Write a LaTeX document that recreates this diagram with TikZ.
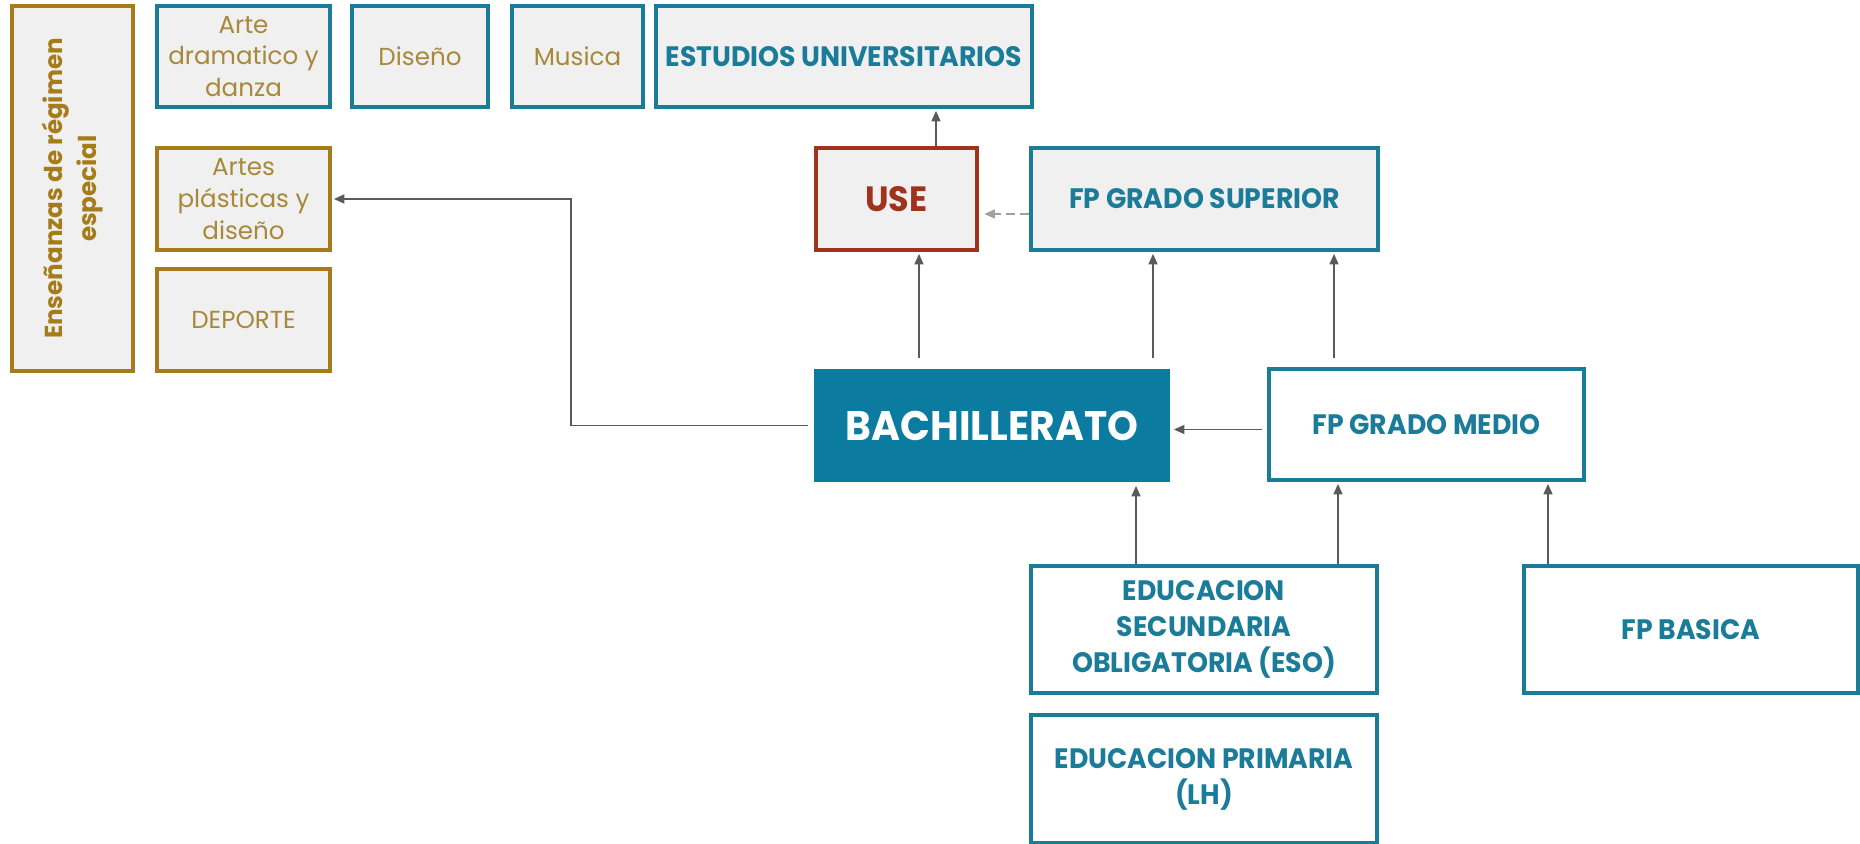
\documentclass[tikz,border=0pt]{standalone}
\usepackage{fontspec}
\setmainfont{Poppins}
\newfontfamily\headfont[FakeStretch=0.95]{Poppins}
\usetikzlibrary{arrows.meta}

\definecolor{eduteal}{HTML}{1B7C99}
\definecolor{bachfill}{HTML}{0B7BA0}
\definecolor{boxgray}{HTML}{F0F0F0}
\definecolor{edugold}{HTML}{A67C1A}
\definecolor{goldtext}{HTML}{A8893A}
\definecolor{usered}{HTML}{A0331C}
\definecolor{arrgray}{HTML}{5A5A5A}
\definecolor{dashgray}{HTML}{A0A0A0}

\def\pxu{0.02cm}

\tikzset{
  sz/.style 2 args={minimum width=#1*\pxu, minimum height=#2*\pxu},
  box/.style={draw=eduteal, line width=2.3pt, fill=boxgray, align=center, inner sep=0pt},
  special/.style={box, text=goldtext, font=\fontsize{14}{18}\selectfont},
  goldbox/.style={special, draw=edugold},
  level/.style={box, fill=white, text=eduteal, font=\headfont\bfseries\fontsize{16}{20.5}\selectfont},
  arr/.style={draw=arrgray, line width=1.1pt, -{Triangle[length=6pt,width=5pt]}, shorten >=1pt},
}

\begin{document}
\begin{tikzpicture}[x=0.02cm, y=-0.02cm]
  \useasboundingbox (0,0) rectangle (1860,844);

  % ensenanzas de regimen especial
  \node[goldbox, sz={365}{121}, rotate=90, text=edugold,
        font=\bfseries\fontsize{14}{19}\selectfont] (ensen) at (72.5, 188.5) {Enseñanzas de régimen\\especial};
  \node[special, sz={173}{101}] (arte) at (243.5, 56.5) {Arte\\dramatico y\\danza};
  \node[special, sz={136}{101}] (diseno) at (420, 56.5) {Diseño};
  \node[special, sz={131}{101}] (musica) at (577.5, 56.5) {Musica};
  \node[goldbox, sz={173}{102}] (artes) at (243.5, 199) {Artes\\plásticas y\\diseño};
  \node[goldbox, sz={173}{102}] (deporte) at (243.5, 320) {DEPORTE};

  % estudios
  \node[level, fill=boxgray, sz={376}{101}] (estud) at (844, 56.5) {ESTUDIOS UNIVERSITARIOS};
  \node[level, fill=boxgray, draw=usered, text=usered, sz={161}{102},
        font=\headfont\bfseries\fontsize{20}{24}\selectfont] (use) at (896.5, 199) {USE};
  \node[level, fill=boxgray, sz={347}{102}] (fpgs) at (1204.5, 199) {FP GRADO SUPERIOR};
  \node[level, draw=none, fill=bachfill, text=white, sz={356}{113},
        font=\headfont\bfseries\fontsize{23.5}{28}\selectfont] (bach) at (992, 425.5) {BACHILLERATO};
  \node[level, sz={315}{111}] (fpgm) at (1426.5, 424.5) {FP GRADO MEDIO};
  \node[level, sz={346}{127}] (eso) at (1204, 629.5) {EDUCACION\\SECUNDARIA\\OBLIGATORIA (ESO)};
  \node[level, sz={346}{128}] (prim) at (1204, 779) {EDUCACION PRIMARIA\\(LH)};
  \node[level, sz={334}{127}] (fpbas) at (1691, 629.5) {FP BASICA};

  % flechas
  \coordinate (bend) at (571, 199);
  \draw[arr] ([xshift=39.5*\pxu]use.north) -- ([xshift=39.5*\pxu]use.north |- estud.south);
  \draw[arr, shorten <=5pt] ([xshift=-73*\pxu]bach.north) -- ([xshift=-73*\pxu]bach.north |- use.south);
  \draw[arr, shorten <=5pt] ([xshift=161*\pxu]bach.north) -- ([xshift=161*\pxu]bach.north |- fpgs.south);
  \draw[arr, shorten <=5pt] ([xshift=-92.5*\pxu]fpgm.north) -- ([xshift=-92.5*\pxu]fpgm.north |- fpgs.south);
  \draw[arr, draw=dashgray, dashed, dash pattern=on 5pt off 3pt, shorten >=3pt]
        ([yshift=-15*\pxu]fpgs.west) -- ([yshift=-15*\pxu]fpgs.west -| use.east);
  \draw[arr, shorten <=3pt] ([yshift=-5*\pxu]fpgm.west) -- ([yshift=-5*\pxu]fpgm.west -| bach.east);
  \draw[arr, shorten <=2pt] (bach.west) -| (bend) -- (artes.east);
  \draw[arr] ([xshift=-68*\pxu]eso.north) -- ([xshift=-68*\pxu]eso.north |- bach.south);
  \draw[arr] ([xshift=134*\pxu]eso.north) -- ([xshift=134*\pxu]eso.north |- fpgm.south);
  \draw[arr] ([xshift=-143*\pxu]fpbas.north) -- ([xshift=-143*\pxu]fpbas.north |- fpgm.south);
\end{tikzpicture}
\end{document}
